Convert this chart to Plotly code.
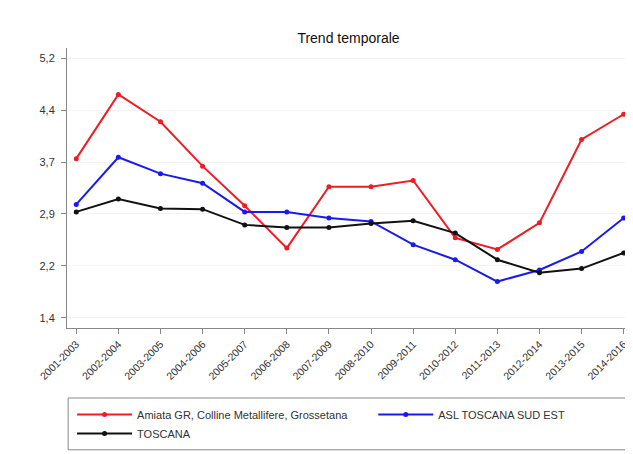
import plotly.graph_objects as go

periods = ["2001-2003", "2002-2004", "2003-2005", "2004-2006", "2005-2007",
           "2006-2008", "2007-2009", "2008-2010", "2009-2011", "2010-2012",
           "2011-2013", "2012-2014", "2013-2015", "2014-2016"]

amiata = [3.73, 4.67, 4.27, 3.62, 3.04, 2.42, 3.32, 3.32, 3.41, 2.57, 2.40, 2.79, 4.01, 4.38]
asl_sud_est = [3.06, 3.75, 3.51, 3.37, 2.95, 2.95, 2.86, 2.81, 2.47, 2.25, 1.93, 2.10, 2.37, 2.86]
toscana = [2.95, 3.14, 3.00, 2.99, 2.76, 2.72, 2.72, 2.78, 2.82, 2.64, 2.25, 2.06, 2.12, 2.35]

y_ticks = [1.4, 2.16, 2.92, 3.68, 4.44, 5.2]
y_labels = ["1,4", "2,2", "2,9", "3,7", "4,4", "5,2"]

font = "Liberation Sans, Arial, sans-serif"

fig = go.Figure()
fig.add_trace(go.Scatter(x=periods, y=amiata, mode="lines+markers",
                         name="Amiata GR, Colline Metallifere, Grossetana",
                         line=dict(color="#ee1c25", width=2),
                         marker=dict(size=5, color="#ee1c25"), legend="legend"))
fig.add_trace(go.Scatter(x=periods, y=asl_sud_est, mode="lines+markers",
                         name="ASL TOSCANA SUD EST",
                         line=dict(color="#1a1aee", width=2),
                         marker=dict(size=5, color="#1a1aee"), legend="legend2"))
fig.add_trace(go.Scatter(x=periods, y=toscana, mode="lines+markers",
                         name="TOSCANA",
                         line=dict(color="#111111", width=2),
                         marker=dict(size=5, color="#111111"), legend="legend"))

# legend frame
fig.add_shape(type="rect", xref="paper", yref="paper",
              x0=0.002, x1=1.003, y0=-0.435, y1=-0.25,
              line=dict(color="#888888", width=1), fillcolor="rgba(0,0,0,0)")

legend_style = dict(orientation="v", xanchor="left", yanchor="top",
                    bgcolor="rgba(0,0,0,0)", tracegroupgap=0, itemwidth=55,
                    font=dict(size=11, color="#333333"))

# page body adds 8px offset, so figure is 625x446 with margins shifted
fig.update_layout(
    width=625, height=446,
    margin=dict(l=59, r=3, t=40, b=126, autoexpand=False),
    paper_bgcolor="white", plot_bgcolor="white",
    font=dict(family=font, size=11, color="#333333"),
    title=dict(text="Trend temporale", x=0.5, xref="paper", xanchor="center",
               y=1 - 30 / 446, yanchor="middle",
               font=dict(size=14, color="#111111")),
    showlegend=True,
    legend=dict(x=0.009, y=-0.257, **legend_style),
    legend2=dict(x=0.544, y=-0.257, **legend_style),
)
fig.update_xaxes(range=[-0.22, 13.15], showline=True, linecolor="#888888",
                 ticks="outside", ticklen=5, tickcolor="#888888",
                 tickangle=-45, showgrid=False, zeroline=False,
                 automargin=False, tickfont=dict(size=10.5))
fig.update_yaxes(range=[1.25, 5.35], showline=True, linecolor="#888888",
                 ticks="outside", ticklen=5, tickcolor="#888888",
                 tickvals=y_ticks, ticktext=y_labels, ticklabelstandoff=4,
                 showgrid=True, gridcolor="#f3f3f3", zeroline=False,
                 automargin=False, tickfont=dict(size=11))

fig.write_html("out.html")
